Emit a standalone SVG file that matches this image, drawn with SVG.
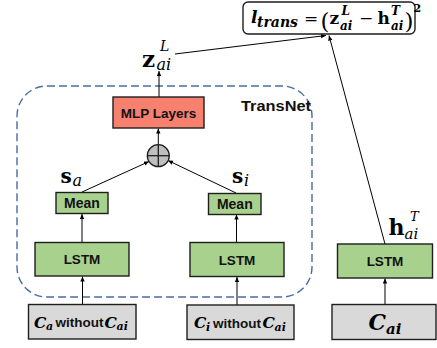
<svg xmlns="http://www.w3.org/2000/svg" width="437" height="348" viewBox="0 0 437 348">
<style>
.box{stroke:#1e1e1e;stroke-width:1.4}
.red{fill:#F8806F}
.grn{fill:#A9D18E}
.gry{fill:#D9D9D9}
.lbl{font-family:"Liberation Sans",Arial,sans-serif;font-weight:bold;fill:#111;text-anchor:middle}
.m{font-family:"DejaVu Serif","Liberation Serif",serif;fill:#000}
.b{font-weight:bold}
.i{font-style:italic}
.bi{font-weight:bold;font-style:italic}
.con line{stroke:#000;stroke-width:1}
</style>
<defs>
<marker id="ah" markerWidth="6" markerHeight="6" refX="5" refY="3" orient="auto" markerUnits="userSpaceOnUse">
<path d="M0,0.8 L5,3 L0,5.2 Z" fill="#000"/>
</marker>
</defs>
<rect x="0" y="0" width="437" height="348" fill="#fff"/>

<g id="transnet">
<rect x="17" y="86" width="295" height="211" rx="30" ry="30" fill="none" stroke="#4A6CA6" stroke-width="1.4" stroke-dasharray="8,4"/>
<text x="241" y="111" class="lbl" style="text-anchor:start" font-size="14" textLength="70" lengthAdjust="spacingAndGlyphs">TransNet</text>
</g>

<g class="con" id="connectors">
<line x1="175" y1="54" x2="326" y2="35.5" marker-end="url(#ah)"/>
<line x1="385" y1="244" x2="329" y2="35.5" marker-end="url(#ah)"/>
<line x1="159" y1="97" x2="159" y2="71" marker-end="url(#ah)"/>
<line x1="158.3" y1="144.7" x2="158.3" y2="128.5" marker-end="url(#ah)"/>
<line x1="82" y1="192" x2="149" y2="161.5" marker-end="url(#ah)"/>
<line x1="236" y1="193" x2="168" y2="160.5" marker-end="url(#ah)"/>
<line x1="82" y1="242" x2="82" y2="214" marker-end="url(#ah)"/>
<line x1="236.5" y1="242" x2="236.5" y2="214.5" marker-end="url(#ah)"/>
<line x1="82.5" y1="304" x2="82.5" y2="276.5" marker-end="url(#ah)"/>
<line x1="237" y1="305" x2="237" y2="277" marker-end="url(#ah)"/>
<line x1="385" y1="304" x2="385" y2="278.5" marker-end="url(#ah)"/>
</g>

<g id="loss">
<rect x="243" y="2" width="172" height="32" rx="5" ry="5" fill="#fff" stroke="#1e1e1e" stroke-width="1.4"/>
<text class="m bi" x="251" y="23" font-size="17">l</text>
<text class="m bi" x="257" y="27" font-size="14">trans</text>
<text class="m" x="304" y="24" font-size="17">=</text>
<text class="m" x="320.5" y="28.5" font-size="23">(</text>
<text class="m b" x="329.5" y="24" font-size="17">z</text>
<text class="m bi" x="340" y="29.5" font-size="12">ai</text>
<text class="m bi" x="341.5" y="15" font-size="12">L</text>
<text class="m" x="359" y="24" font-size="17">−</text>
<text class="m b" x="377.5" y="24" font-size="17">h</text>
<text class="m bi" x="391" y="29.5" font-size="12">ai</text>
<text class="m bi" x="391" y="15" font-size="12">T</text>
<text class="m" x="404.5" y="28.5" font-size="23">)</text>
<text class="m b" x="413.6" y="12" font-size="11">2</text>
</g>

<g id="z_label">
<text class="m b" x="142" y="67" font-size="23">z</text>
<text class="m i" x="156.5" y="70" font-size="16">ai</text>
<text class="m i" x="160" y="50.5" font-size="14">L</text>
</g>

<g id="mlp">
<rect class="box red" x="113" y="97" width="91" height="31"/>
<text class="lbl" x="158.5" y="117.5" font-size="13.5">MLP Layers</text>
</g>

<g id="plus">
<circle cx="158.3" cy="155.7" r="11" fill="#BFBFBF" stroke="#1e1e1e" stroke-width="1.3"/>
<line x1="147.3" y1="155.7" x2="169.3" y2="155.7" stroke="#1e1e1e" stroke-width="1.3"/>
<line x1="158.3" y1="144.7" x2="158.3" y2="166.7" stroke="#1e1e1e" stroke-width="1.3"/>
</g>

<g id="s_a">
<text class="m b" x="60.5" y="183" font-size="20">s</text>
<text class="m i" x="72.5" y="186" font-size="16">a</text>
</g>
<g id="s_i">
<text class="m b" x="232" y="183" font-size="20">s</text>
<text class="m i" x="244" y="186" font-size="16">i</text>
</g>

<g id="mean_a">
<rect class="box grn" x="56" y="192.5" width="52" height="21"/>
<text class="lbl" x="82" y="208" font-size="14">Mean</text>
</g>
<g id="mean_i">
<rect class="box grn" x="208.5" y="193.5" width="52.5" height="21"/>
<text class="lbl" x="234.8" y="209" font-size="14">Mean</text>
</g>

<g id="lstm_a">
<rect class="box grn" x="35" y="242.5" width="94" height="33.5"/>
<text class="lbl" x="82" y="264" font-size="13.5">LSTM</text>
</g>
<g id="lstm_i">
<rect class="box grn" x="190" y="242.5" width="94" height="34"/>
<text class="lbl" x="237" y="264.5" font-size="13.5">LSTM</text>
</g>
<g id="lstm_ai">
<rect class="box grn" x="337.5" y="244" width="95" height="34"/>
<text class="lbl" x="385" y="266" font-size="13.5">LSTM</text>
</g>

<g id="h_label">
<text class="m b" x="388.5" y="235" font-size="22">h</text>
<text class="m i" x="404.5" y="239" font-size="15">ai</text>
<text class="m i" x="410" y="221" font-size="13">T</text>
</g>

<g id="input_a">
<rect class="box gry" x="28.5" y="304.5" width="107.5" height="34.5"/>
<text class="m bi" x="34" y="327.5" font-size="15.5">C</text>
<text class="m bi" x="46" y="330" font-size="11">a</text>
<text class="lbl" x="79.5" y="327" font-size="13.5">without</text>
<text class="m bi" x="104.5" y="327.5" font-size="15.5">C</text>
<text class="m bi" x="116.5" y="330" font-size="11">ai</text>
</g>
<g id="input_i">
<rect class="box gry" x="187" y="305" width="107" height="34.5"/>
<text class="m bi" x="194" y="328" font-size="15.5">C</text>
<text class="m bi" x="206" y="330.5" font-size="11">i</text>
<text class="lbl" x="237" y="327.5" font-size="13.5">without</text>
<text class="m bi" x="262.5" y="328" font-size="15.5">C</text>
<text class="m bi" x="274.5" y="330.5" font-size="11">ai</text>
</g>
<g id="input_ai">
<rect class="box gry" x="332" y="304.5" width="104" height="35"/>
<text class="m bi" x="368.5" y="330" font-size="22">C</text>
<text class="m bi" x="386" y="334" font-size="15">ai</text>
</g>
</svg>
